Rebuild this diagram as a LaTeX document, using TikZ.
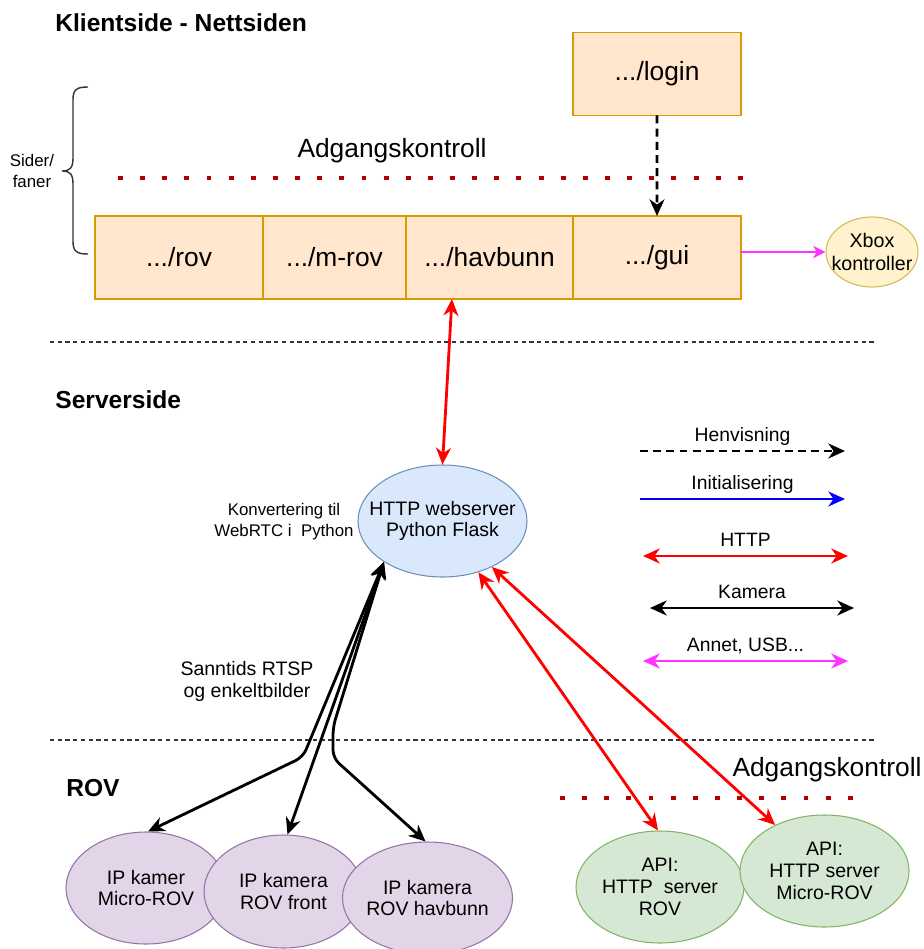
\documentclass[tikz,border=0pt]{standalone}
\usepackage{fontspec}
\setmainfont{Liberation Sans}
\usepackage{tikz}
\usetikzlibrary{shapes.geometric, arrows.meta, positioning, calc}
\definecolor{pagefill}{HTML}{FFE6CC}
\definecolor{pageline}{HTML}{D79B00}
\definecolor{xboxfill}{HTML}{FFF2CC}
\definecolor{xboxline}{HTML}{D6B656}
\definecolor{srvfill}{HTML}{DAE8FC}
\definecolor{srvline}{HTML}{6C8EBF}
\definecolor{camfill}{HTML}{E1D5E7}
\definecolor{camline}{HTML}{9673A6}
\definecolor{apifill}{HTML}{D5E8D4}
\definecolor{apiline}{HTML}{82B366}
\definecolor{gatered}{HTML}{B20000}
\definecolor{httpred}{HTML}{FF0000}
\definecolor{initblue}{HTML}{0000FF}
\definecolor{usbpink}{HTML}{FF33FF}
\definecolor{bracegray}{HTML}{333333}
\newcommand{\pxu}{0.02cm}

\begin{document}
\begin{tikzpicture}[
    x=\pxu, y=-\pxu,
    heading/.style={anchor=west, inner sep=0pt, font=\fontsize{14}{17}\selectfont\bfseries},
    big/.style={inner sep=0pt, font=\fontsize{15}{18}\selectfont},
    small/.style={align=center, inner sep=0pt, font=\fontsize{9.6}{11.9}\selectfont},
    txt/.style={align=center, inner sep=0pt, font=\fontsize{11.1}{12.5}\selectfont},
    page/.style={rectangle, draw=pageline, fill=pagefill, line width=0.8pt, minimum height=83*\pxu, inner sep=0pt, outer sep=0pt, font=\fontsize{15}{18}\selectfont},
    xbox/.style={ellipse, draw=xboxline, fill=xboxfill, line width=0.6pt, minimum width=92*\pxu, minimum height=70*\pxu, inner sep=0pt},
    srv/.style={ellipse, draw=srvline, fill=srvfill, line width=0.6pt, minimum width=169*\pxu, minimum height=112*\pxu, inner sep=0pt},
    cam/.style={ellipse, draw=camline, fill=camfill, line width=0.6pt, minimum width=160*\pxu, minimum height=112*\pxu, inner sep=0pt},
    api/.style={ellipse, draw=apiline, fill=apifill, line width=0.6pt, minimum width=168*\pxu, minimum height=112*\pxu, inner sep=0pt},
    gate/.style={draw=gatered, line width=2.8pt, dash pattern=on 2.8pt off 9.8pt},
    sepline/.style={draw=black!80, line width=0.6pt, dash pattern=on 2.4pt off 2pt},
    refarr/.style={-{Stealth[length=9.5pt, width=8.5pt, inset=3pt]}, line width=1.6pt, dash pattern=on 4.5pt off 3pt},
    initarr/.style={-{Stealth[length=9.5pt, width=8.5pt, inset=3pt]}, line width=1.5pt, draw=initblue},
    httparr/.style={{Stealth[length=9.5pt, width=8.5pt, inset=3pt]}-{Stealth[length=9.5pt, width=8.5pt, inset=3pt]}, line width=1.6pt, draw=httpred},
    camarr/.style={{Stealth[length=9.5pt, width=8.5pt, inset=3pt]}-{Stealth[length=9.5pt, width=8.5pt, inset=3pt]}, line width=1.6pt, rounded corners=8*\pxu},
    usbarr/.style={{Stealth[length=9.5pt, width=8.5pt, inset=3pt]}-{Stealth[length=9.5pt, width=8.5pt, inset=3pt]}, line width=1.5pt, draw=usbpink},
    xboxarr/.style={-{Stealth[length=7pt, width=7pt, inset=2pt]}, line width=0.6pt, draw=usbpink},
    legtext/.style={above=4.5pt, inner sep=0pt, text depth=0pt, font=\fontsize{11}{13}\selectfont},
]
    \useasboundingbox (0,0) rectangle (923,949);

    \node[heading] (klient) at (55,23) {Klientside - Nettsiden};
    \node[heading] (server) at (55,400) {Serverside};
    \node[heading] (rovhead) at (66,788) {ROV};

    \draw[bracegray, line width=0.8pt] (88,87) .. controls (76,87) and (73,90) .. (73,100) -- (73,158) .. controls (73,168) and (70,171) .. (62,171) .. controls (70,171) and (73,174) .. (73,184) -- (73,241) .. controls (73,251) and (76,254) .. (88,254);
    \node[small] (sider) at (32,171) {Sider/\\faner};

    \node[page, minimum width=168*\pxu] (login) at (657,74) {.../login};
    \node[big] (gatetop) at (392,151) {Adgangskontroll};
    \coordinate (gateA) at (118,178);
    \coordinate (gateB) at (752,178);
    \draw[gate] (gateA) -- (gateB);

    \node[page, minimum width=168*\pxu] (rov) at (179,257.5) {.../rov};
    \node[page, minimum width=143*\pxu, right=0pt of rov] (mrov) {.../m-rov};
    \node[page, minimum width=167*\pxu, right=0pt of mrov] (hav) {.../havbunn};
    \node[page, minimum width=168*\pxu, right=0pt of hav] (gui) {.../gui};
    \node[xbox, label={[txt, font=\fontsize{11.2}{13}\selectfont]center:Xbox\\kontroller}] (xbox) at (872,252) {};
    \draw[refarr] (login.south) -- (gui.north);
    \draw[xboxarr] (gui.east |- xbox.west) -- (xbox.west);

    \coordinate (sep1A) at (50,342);
    \coordinate (sep1B) at (876,342);
    \draw[sepline] (sep1A) -- (sep1B);

    \node[srv, label={[txt, font=\fontsize{11.1}{12}\selectfont]center:HTTP webserver\\Python Flask}] (ws) at (442.5,521) {};
    \node[small] (webrtc) at (284,522) {Konvertering til\\WebRTC i\ \ Python};
    \draw[httparr] ($(hav.south west)!0.275!(hav.south east)$) -- (ws.north);

    \coordinate (henvA) at (640,451);
    \coordinate (henvB) at (845,451);
    \draw[refarr] (henvA) -- node[legtext] (henvlbl) {Henvisning} (henvB);
    \coordinate (initA) at (640,499);
    \coordinate (initB) at (845,499);
    \draw[initarr] (initA) -- node[legtext] (initlbl) {Initialisering} (initB);
    \coordinate (httpA) at (643,556);
    \coordinate (httpB) at (848,556);
    \draw[httparr] (httpA) -- node[legtext] (httplbl) {HTTP} (httpB);
    \coordinate (kamA) at (650,608);
    \coordinate (kamB) at (854,608);
    \draw[camarr] (kamA) -- node[legtext] (kamlbl) {Kamera} (kamB);
    \coordinate (usbA) at (643,661);
    \coordinate (usbB) at (848,661);
    \draw[usbarr] (usbA) -- node[legtext] (usblbl) {Annet, USB...} (usbB);

    \node[txt] (rtsp) at (247,681) {Sanntids RTSP\\og enkeltbilder};

    \coordinate (sep2A) at (50,740);
    \coordinate (sep2B) at (876,740);
    \draw[sepline] (sep2A) -- (sep2B);

    \node[big] (gatebot) at (827,770) {Adgangskontroll};
    \coordinate (gate2A) at (560,798);
    \coordinate (gate2B) at (856,798);
    \draw[gate] (gate2A) -- (gate2B);

    \node[cam, label={[txt]center:IP kamer\\Micro-ROV}] (cam1) at (146,888) {};
    \node[cam, minimum width=159*\pxu, minimum height=113*\pxu, label={[txt]center:IP kamera\\ROV front}] (cam2) at (283.5,891.5) {};
    \node[cam, minimum width=170*\pxu, label={[txt]center:IP kamera\\ROV havbunn}] (cam3) at (427.5,898) {};
    \node[api, label={[txt]center:API:\\HTTP\ \ server\\ROV}] (apirov) at (660,887) {};
    \node[api, minimum width=169*\pxu, label={[txt]center:API:\\HTTP server\\Micro-ROV}] (apimr) at (824.5,871) {};

    \coordinate (bend1) at (303,757);
    \coordinate (bend3a) at (333,727);
    \coordinate (bend3b) at (333,758);
    \draw[camarr] (ws.215) -- (bend1) -- (cam1.88);
    \draw[camarr] (ws.215) -- (cam2.86);
    \draw[camarr] (ws.215) -- (bend3a) -- (bend3b) -- (cam3.92);

    \draw[httparr] (ws.305) -- (apirov.92);
    \draw[httparr] (ws.317) -- (apimr.137);
\end{tikzpicture}
\end{document}
